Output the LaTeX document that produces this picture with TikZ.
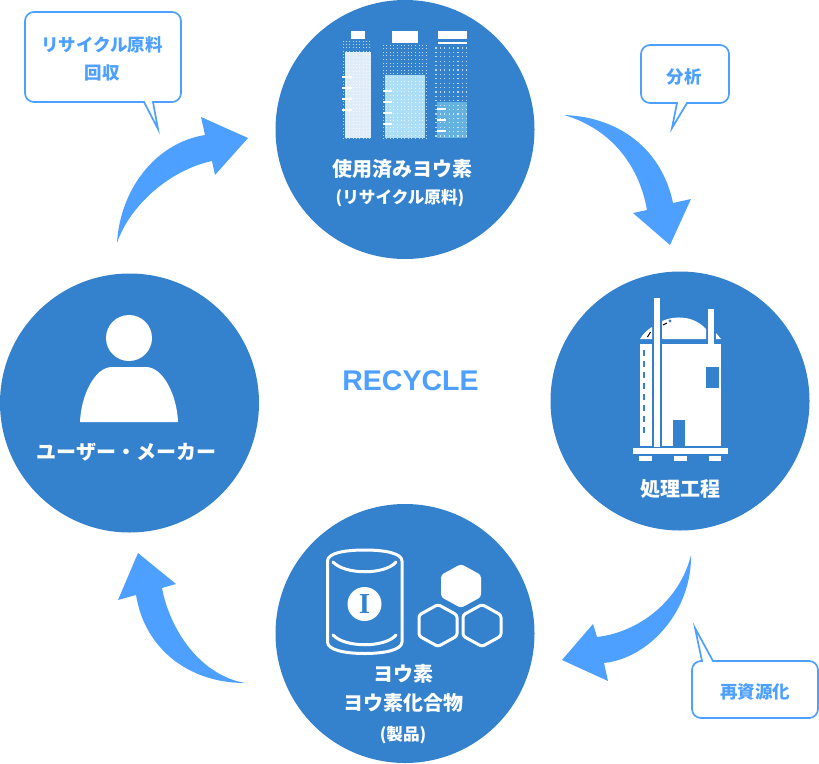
\documentclass[tikz,border=0pt]{standalone}
\usepackage{fontspec}
\setmainfont{Liberation Sans}
\newfontfamily\jp{Noto Sans CJK JP}
\newfontfamily\symserif{Liberation Serif}
\definecolor{disc}{HTML}{3482CE}
\definecolor{accent}{HTML}{4DA0FF}
\tikzset{
  disc/.style={circle,fill=disc,minimum size=259pt,inner sep=0pt},
  flow/.style={fill=accent,draw=none},
  bubble/.style={draw=accent,fill=white,line width=1.7pt,line join=miter},
  bubbletext/.style={text=accent,font=\jp\bfseries\fontsize{17.5}{17.5}\selectfont,inner sep=0pt,anchor=center},
  disctext/.style={text=white,font=\jp\bfseries\fontsize{20}{20}\selectfont,inner sep=0pt,anchor=center},
  subtext/.style={text=white,font=\jp\bfseries\fontsize{16.6}{16.6}\selectfont,inner sep=0pt,anchor=center},
  icon/.style={fill=white,draw=none},
  hole/.style={fill=disc,draw=none},
  outline/.style={draw=white,line width=3pt,line cap=round,line join=round},
}
\newcommand{\dotgrid}[6]{% x0,x1,y0,y1,step,size
  \pgfmathsetmacro{\nx}{int((#2-#1)/#5)}%
  \pgfmathsetmacro{\ny}{int((#4-#3)/#5)}%
  \foreach \i in {0,...,\nx}{\foreach \j in {0,...,\ny}{%
    \fill[white,opacity=.7] ({#1+\i*#5-#6/2},{#3+\j*#5-#6/2}) rectangle ++(#6,#6);}}%
}
\begin{document}
\begin{tikzpicture}[x=1pt,y=-1pt]
\useasboundingbox (0,0) rectangle (819,763);
% discs
\node[disc] (top) at (405,129.5) {};
\node[disc] (right) at (680,401) {};
\node[disc] (bottom) at (405,633.5) {};
\node[disc] (left) at (129.5,403) {};
% arrows
\fill[flow] (564,115) .. controls (620,117) and (662,150) .. (673,203) -- (691,199) -- (670,245) -- (633,213) -- (647,210) .. controls (640,170) and (615,130) .. (564,115) -- cycle;
\fill[flow] (691,555) .. controls (692,610) and (650,658) .. (604,663) -- (608,681) -- (562,660) -- (593,624) -- (597,637) .. controls (640,632) and (680,600) .. (691,555) -- cycle;
\fill[flow] (245,683) .. controls (190,683) and (145,650) .. (136,595) -- (118,600) -- (138,553) -- (176,584) -- (162,588) .. controls (170,630) and (200,675) .. (245,683) -- cycle;
\fill[flow] (117,243) .. controls (120,190) and (155,143) .. (205,135) -- (201,117) -- (248,138) -- (215,175) -- (212,161) .. controls (170,170) and (130,205) .. (117,243) -- cycle;
% bubbles
\draw[bubble] (34,12) -- (172,12) arc[start angle=-90,end angle=0,radius=9] -- (181,93) arc[start angle=0,end angle=90,radius=9] -- (153,102) -- (158,129) -- (144,102) -- (34,102) arc[start angle=90,end angle=180,radius=9] -- (25,21) arc[start angle=180,end angle=270,radius=9] -- cycle;
\draw[bubble] (650,45) -- (720,45) arc[start angle=-90,end angle=0,radius=9] -- (729,94) arc[start angle=0,end angle=90,radius=9] -- (687,103) -- (672,128) -- (677,103) -- (650,103) arc[start angle=90,end angle=180,radius=9] -- (641,54) arc[start angle=180,end angle=270,radius=9] -- cycle;
\draw[bubble] (702,661) -- (695,628) -- (713,661) -- (809,661) arc[start angle=-90,end angle=0,radius=9] -- (818,709) arc[start angle=0,end angle=90,radius=9] -- (701,718) arc[start angle=90,end angle=180,radius=9] -- (692,670) arc[start angle=180,end angle=270,radius=9] -- cycle;
\node[bubbletext] (b1a) at (102,44.5) {リサイクル原料};
\node[bubbletext] (b1b) at (102,72.5) {回収};
\node[bubbletext] (b2) at (684,76.5) {分析};
\node[bubbletext] (b3) at (755,691.5) {再資源化};
% centre label
\node[text=accent,font=\bfseries\fontsize{28.5}{28.5}\selectfont,inner sep=0pt] (recycle) at (410.5,381) {RECYCLE};
% disc labels
\node[disctext] (t1) at (402.5,168.5) {使用済みヨウ素};
\node[subtext] (t2) at (400,198.5) {(リサイクル原料)};
\node[disctext] (t3) at (680,489) {処理工程};
\node[disctext] (t4) at (126.5,452.5) {ユーザー・メーカー};
\node[disctext] (t5) at (403,673.5) {ヨウ素};
\node[disctext] (t6) at (403,702.5) {ヨウ素化合物};
\node[subtext] (t7) at (403,735.5) {(製品)};
% bottles
\fill[white] (351,31) rectangle (365,39);
\fill[white] (392,31) rectangle (418,43);
\fill[white] (438,31) rectangle (467,39);
\fill[white] (438,42) rectangle (467,44);
\fill[white,opacity=.85] (345,52) rectangle (371,138);
\fill[color={rgb,255:red,172;green,222;blue,248}] (385,75) rectangle (425,138);
\fill[color={rgb,255:red,100;green,178;blue,226}] (437,102) rectangle (467,138);
\dotgrid{343}{373}{41}{139}{3.35}{.9}
\dotgrid{383}{427}{45}{139}{3.6}{1}
\dotgrid{436}{470}{48}{139}{4.4}{1.2}
\foreach \y in {77,88,99,110} \fill[white] (342,\y-1) rectangle (352,\y+1);
\foreach \y in {91,102,113,124} \fill[white] (383,\y-1) rectangle (392,\y+1);
\foreach \y in {109,120,131} \fill[white] (437,\y-1) rectangle (446,\y+1);
% plant
\fill[icon] (654,298) rectangle (660,447);
\fill[icon] (708,309) rectangle (714,344);
\fill[icon] (640,344) rectangle (652,446);
\fill[icon] (662,344) rectangle (721,446);
\fill[icon] (662,339) -- (662,321) .. controls (676,315) and (694,316) .. (706,329) -- (706,339) -- cycle;
\fill[icon] (640,339) .. controls (643,334) and (647,330) .. (652,327) -- (652,339) -- cycle;
\fill[icon] (716,333) -- (721,339) -- (716,339) -- cycle;
\draw[disc,line width=1pt] (647.5,337) -- (650.5,332);
\draw[disc,line width=1pt] (663,325) -- (667,323);
\fill[disc] (670,321) circle (1.7);
\fill[hole] (673,420) rectangle (685,446);
\fill[hole] (706,367) rectangle (719,388);
\foreach \y in {350,361,372,383,394,405,416,427} \fill[hole] (643,\y) rectangle (645,\y+6);
\fill[icon] (633,448) rectangle (728,454);
\fill[icon] (639,456) rectangle (652,461);
\fill[icon] (674,456) rectangle (687,461);
\fill[icon] (709,456) rectangle (721,461);
% person
\fill[icon] (129,338) circle (23);
\fill[icon] (80,422) .. controls (81,395) and (95,367) .. (112,367) -- (146,367) .. controls (163,367) and (177,395) .. (178,422) -- cycle;
% can
\draw[outline] (327.5,561) .. controls (327.5,553) and (345,550) .. (364.75,550) .. controls (384,550) and (402,553) .. (402,561) -- (402,642) .. controls (402,650) and (384,653.5) .. (364.75,653.5) .. controls (345,653.5) and (327.5,650) .. (327.5,642) -- cycle;
\draw[outline] (333,562) .. controls (345,575) and (385,575) .. (396,562);
\draw[outline] (333,635) .. controls (345,648) and (385,648) .. (396,635);
\fill[icon] (364.5,604) circle (17);
\node[text=disc,font=\symserif\bfseries\fontsize{29}{29}\selectfont,inner sep=0pt] (iodine) at (364.5,604) {I};
% hexes
\fill[icon,rounded corners=3pt] (461,564) -- (481,575) -- (481,597) -- (461,608) -- (441,597) -- (441,575) -- cycle;
\draw[outline,rounded corners=2.5pt] (438,604.5) -- (457,615) -- (457,636) -- (438,646.5) -- (419,636) -- (419,615) -- cycle;
\draw[outline,rounded corners=2.5pt] (482,604.5) -- (501,615) -- (501,636) -- (482,646.5) -- (463,636) -- (463,615) -- cycle;
\end{tikzpicture}
\end{document}
